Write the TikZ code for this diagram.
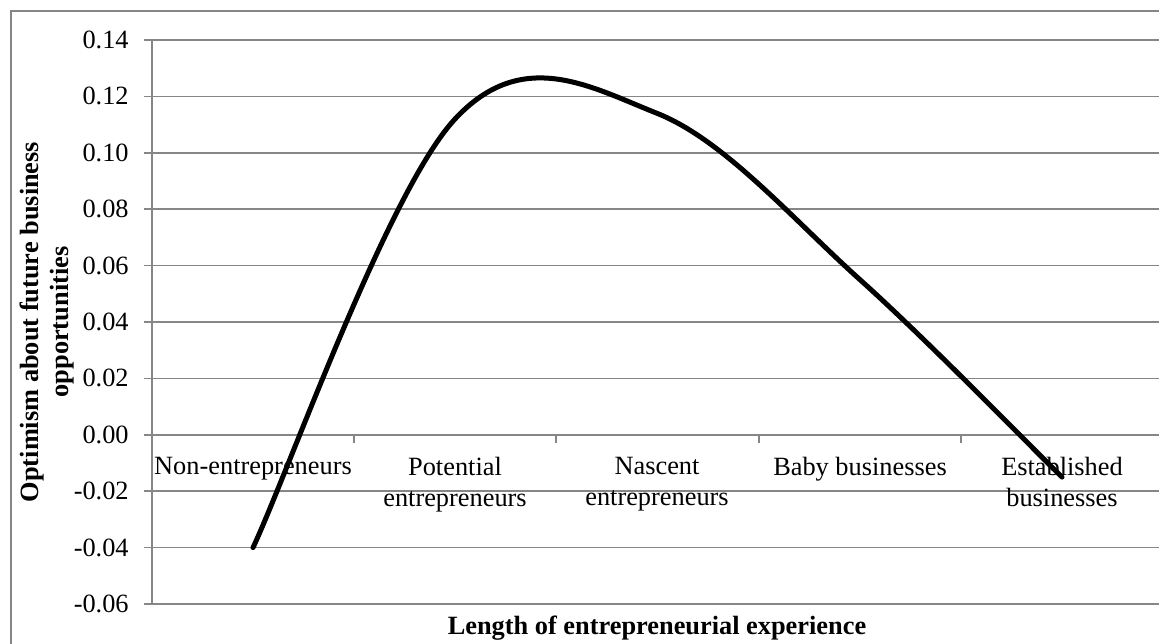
\documentclass[tikz,border=0pt]{standalone}
\usepackage{fontspec}
\setmainfont{Liberation Serif}
\usetikzlibrary{positioning}
\definecolor{gridgray}{RGB}{134,134,134}

\begin{document}
\begin{tikzpicture}[x=0.02cm, y=-0.02cm,
    grid/.style = {draw=gridgray, line width=0.85pt},
    vallabel/.style = {anchor=east, inner sep=0pt, font=\fontsize{15}{17.6}\selectfont},
    cat/.style = {align=center, anchor=north, inner sep=0pt, font=\fontsize{15}{17.6}\selectfont},
    title/.style = {align=center, inner sep=0pt, font=\fontsize{15}{17.6}\selectfont\bfseries},
    curve/.style = {draw=black, line width=2.85pt, line cap=round, line join=round}]
    \useasboundingbox (0,0) rectangle (1159,643);
    \clip (0,0) rectangle (1159,643);
    % chart frame
    \draw[gridgray, line width=0.6pt] (11,11) rectangle (1180,660);
    % gridlines and value labels
    \foreach \val [count=\i from 0] in {0.14,0.12,0.10,0.08,0.06,0.04,0.02,0.00,-0.02,-0.04,-0.06} {
        \draw[grid] (144,40+56.4*\i) -- (1180,40+56.4*\i);
        \node[vallabel] (v\i) at (129,40+56.4*\i) {\val};
    }
    \draw[grid] (152,40) -- (152,604);
    \foreach \x in {354,556,759,961}
        \draw[grid] (\x,434.8) -- (\x,443);
    % categories
    \node[cat] (non)  at (253,457) {Non-entrepreneurs};
    \node[cat] (pot)  at (455,457) {Potential\\entrepreneurs};
    \node[cat] (nas)  at (657,457) {Nascent\\entrepreneurs};
    \node[cat] (baby) at (860,457) {Baby businesses};
    \node[cat] (est)  at (1062,457) {Established\\businesses};
    % axis titles
    \node[title, anchor=base] (xtitle) at (657,634) {Length of entrepreneurial experience};
    \node[title, rotate=90] (ytitle) at (47,322) {Optimism about future business\\opportunities};
    % data points
    \coordinate (p1) at (253,547.6);
    \coordinate (p2) at (455,119.0);
    \coordinate (p3) at (657,113.3);
    \coordinate (p4) at (860,279.7);
    \coordinate (p5) at (1062,477.1);
    \draw[curve] (p1) .. controls (286.7,476.2) and (387.7,191.4) .. (p2)
        .. controls (522.3,46.6) and (589.5,86.5) .. (p3)
        .. controls (724.5,140.1) and (792.5,219.1) .. (p4)
        .. controls (927.5,340.3) and (1028.3,444.2) .. (p5);
\end{tikzpicture}
\end{document}
